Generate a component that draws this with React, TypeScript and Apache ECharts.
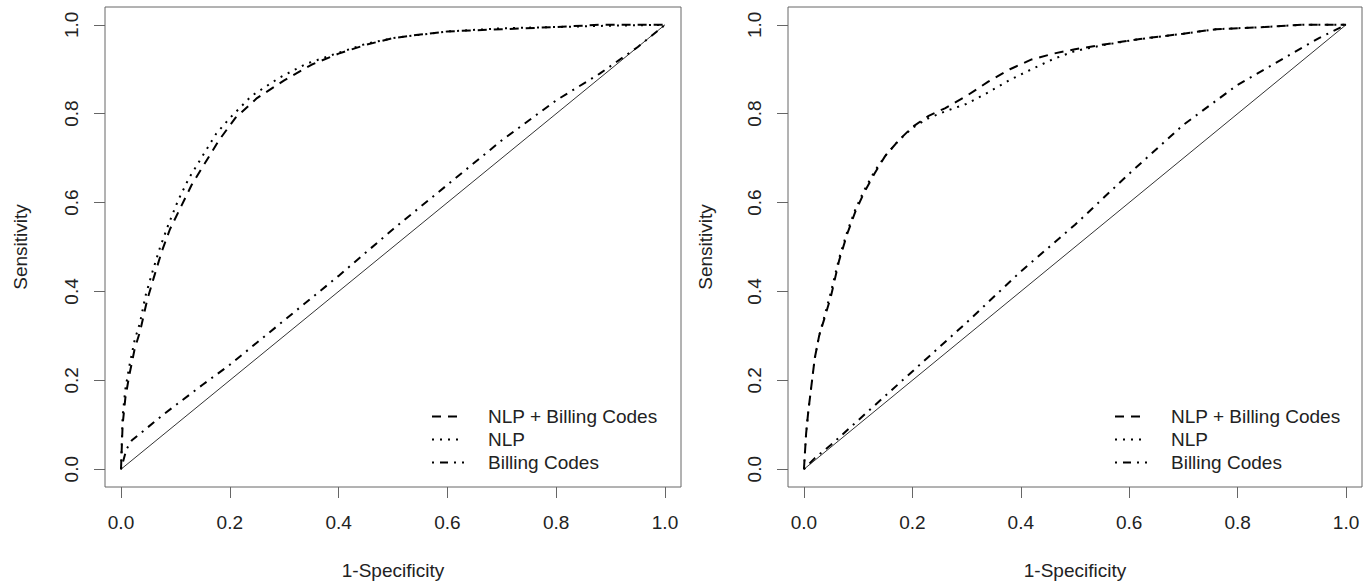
import React, { useEffect, useRef } from "react";
import * as echarts from "echarts";

const TICKS = [0, 0.2, 0.4, 0.6, 0.8, 1.0];
const SERIES_NAMES = ["NLP + Billing Codes", "NLP", "Billing Codes"];
const X_TITLE = "1-Specificity";
const Y_TITLE = "Sensitivity";

const leftCombined = [
  [0, 0], [0.003, 0.1], [0.008, 0.16], [0.015, 0.21], [0.025, 0.27], [0.035, 0.31],
  [0.048, 0.38], [0.06, 0.43], [0.075, 0.49], [0.09, 0.54], [0.11, 0.59], [0.13, 0.64],
  [0.155, 0.69], [0.18, 0.74], [0.21, 0.79], [0.25, 0.835], [0.3, 0.875], [0.35, 0.91],
  [0.4, 0.935], [0.45, 0.955], [0.5, 0.97], [0.55, 0.978], [0.6, 0.985], [0.7, 0.99],
  [0.8, 0.995], [0.88, 1.0], [1, 1],
];
const leftNLP = [
  [0, 0], [0.003, 0.12], [0.008, 0.18], [0.015, 0.23], [0.025, 0.29], [0.035, 0.33],
  [0.045, 0.39], [0.058, 0.445], [0.072, 0.5], [0.087, 0.55], [0.105, 0.605], [0.125, 0.655],
  [0.15, 0.705], [0.175, 0.755], [0.2, 0.79], [0.24, 0.84], [0.29, 0.88], [0.34, 0.912],
  [0.4, 0.937], [0.45, 0.957], [0.5, 0.97], [0.6, 0.985], [0.7, 0.992], [0.8, 0.995],
  [0.9, 0.998], [1, 1],
];
const leftBilling = [
  [0, 0], [0.01, 0.045], [0.02, 0.065], [0.04, 0.085], [0.08, 0.125], [0.15, 0.19],
  [0.2, 0.235], [0.3, 0.335], [0.4, 0.435], [0.5, 0.54], [0.6, 0.64], [0.7, 0.74],
  [0.8, 0.83], [0.88, 0.89], [0.95, 0.95], [1, 1],
];
const rightCombined = [
  [0, 0], [0.004, 0.08], [0.008, 0.13], [0.013, 0.18], [0.02, 0.25], [0.028, 0.3],
  [0.038, 0.34], [0.05, 0.39], [0.065, 0.47], [0.08, 0.53], [0.095, 0.58], [0.11, 0.62],
  [0.13, 0.665], [0.15, 0.705], [0.175, 0.74], [0.2, 0.77], [0.23, 0.795], [0.26, 0.812],
  [0.3, 0.84], [0.34, 0.872], [0.38, 0.9], [0.42, 0.922], [0.46, 0.935], [0.5, 0.945],
  [0.56, 0.957], [0.62, 0.968], [0.7, 0.98], [0.76, 0.99], [0.85, 0.995], [0.92, 1.0], [1, 1],
];
const rightNLP = [
  [0, 0], [0.004, 0.08], [0.008, 0.13], [0.013, 0.18], [0.02, 0.25], [0.028, 0.3],
  [0.038, 0.345], [0.05, 0.4], [0.065, 0.475], [0.08, 0.535], [0.095, 0.585], [0.11, 0.625],
  [0.13, 0.67], [0.15, 0.705], [0.175, 0.74], [0.2, 0.768], [0.23, 0.79], [0.26, 0.805],
  [0.3, 0.822], [0.34, 0.848], [0.38, 0.876], [0.42, 0.9], [0.46, 0.923], [0.5, 0.941],
  [0.56, 0.956], [0.62, 0.968], [0.7, 0.98], [0.76, 0.99], [0.85, 0.995], [0.92, 1.0], [1, 1],
];
const rightBilling = [
  [0, 0], [0.02, 0.025], [0.05, 0.055], [0.1, 0.11], [0.2, 0.22], [0.3, 0.33],
  [0.4, 0.445], [0.5, 0.55], [0.6, 0.665], [0.7, 0.775], [0.8, 0.865], [0.9, 0.935],
  [0.95, 0.97], [1, 1],
];
const diagonal = [[0, 0], [1, 1]];

const FONT = "'Liberation Sans', Arial, Helvetica, sans-serif";
const TEXT = "#222";
const FRAME = "#666";
const FS = 19;

function makeXAxis(gridIndex: number) {
  return {
    type: "value",
    gridIndex,
    min: -0.0294,
    max: 1.0294,
    name: X_TITLE,
    nameLocation: "middle",
    nameGap: 74,
    nameTextStyle: { color: TEXT, fontSize: FS, fontFamily: FONT },
    axisLine: { show: false, onZero: false },
    axisTick: { show: true, length: 11, customValues: TICKS, lineStyle: { color: FRAME, width: 1 } },
    axisLabel: {
      show: true,
      customValues: TICKS,
      margin: 26,
      color: TEXT,
      fontSize: FS,
      fontFamily: FONT,
      formatter: (v: number) => v.toFixed(1),
    },
    splitLine: { show: false },
  };
}

function makeYAxis(gridIndex: number, nameGap: number) {
  return {
    type: "value",
    gridIndex,
    min: -0.04,
    max: 1.04,
    name: Y_TITLE,
    nameLocation: "middle",
    nameGap,
    nameRotate: 90,
    nameTextStyle: { color: TEXT, fontSize: FS, fontFamily: FONT },
    axisLine: { show: false, onZero: false },
    axisTick: { show: true, length: 11, customValues: TICKS, lineStyle: { color: FRAME, width: 1 } },
    axisLabel: {
      show: true,
      customValues: TICKS,
      rotate: 90,
      margin: 24,
      color: TEXT,
      fontSize: FS,
      fontFamily: FONT,
      formatter: (v: number) => v.toFixed(1),
    },
    splitLine: { show: false },
  };
}

const DASHES = {
  combined: [9, 7],
  nlp: [2, 6],
  billing: [2, 6, 8, 6],
};

function curves(idx: number, combined: number[][], nlp: number[][], billing: number[][]) {
  const base = {
    type: "line",
    xAxisIndex: idx,
    yAxisIndex: idx,
    symbol: "none",
    smooth: false,
    silent: true,
    itemStyle: { color: "#000" },
  };
  return [
    {
      ...base,
      name: "diag" + idx,
      data: diagonal,
      lineStyle: { color: "#333", width: 1, type: "solid" },
      z: 1,
    },
    {
      ...base,
      name: SERIES_NAMES[2],
      data: billing,
      lineStyle: { color: "#000", width: 2, type: DASHES.billing, cap: "butt" },
      z: 2,
    },
    {
      ...base,
      name: SERIES_NAMES[1],
      data: nlp,
      lineStyle: { color: "#000", width: 2, type: DASHES.nlp, cap: "butt" },
      z: 3,
    },
    {
      ...base,
      name: SERIES_NAMES[0],
      data: combined,
      lineStyle: { color: "#000", width: 2, type: DASHES.combined, cap: "butt" },
      z: 4,
    },
  ];
}

function makeLegend(left: number) {
  return {
    data: SERIES_NAMES,
    orient: "vertical",
    left,
    top: 407,
    padding: 0,
    itemWidth: 32,
    itemHeight: 14,
    itemGap: 4,
    selectedMode: false,
    itemStyle: { opacity: 0 },
    textStyle: { color: TEXT, fontSize: FS, fontFamily: FONT, padding: [0, 0, 0, 19] },
  };
}

export default function App() {
  const ref = useRef<HTMLDivElement>(null);
  useEffect(() => {
    if (!ref.current) return;
    const chart = echarts.init(ref.current, undefined, { renderer: "svg" });
    chart.setOption({
      animation: false,
      backgroundColor: "#fff",
      grid: [
        { left: 105, top: 7, width: 576, height: 485, show: true, borderColor: FRAME, borderWidth: 1, backgroundColor: "transparent" },
        { left: 788, top: 7, width: 574, height: 485, show: true, borderColor: FRAME, borderWidth: 1, backgroundColor: "transparent" },
      ],
      xAxis: [makeXAxis(0), makeXAxis(1)],
      yAxis: [makeYAxis(0, 75), makeYAxis(1, 73)],
      legend: [makeLegend(431), makeLegend(1114)],
      series: [
        ...curves(0, leftCombined, leftNLP, leftBilling),
        ...curves(1, rightCombined, rightNLP, rightBilling),
      ],
    });
    return () => chart.dispose();
  }, []);
  return (
    <div
      ref={ref}
      style={{ position: "absolute", left: 0, top: 0, width: 1363, height: 585 }}
    />
  );
}
